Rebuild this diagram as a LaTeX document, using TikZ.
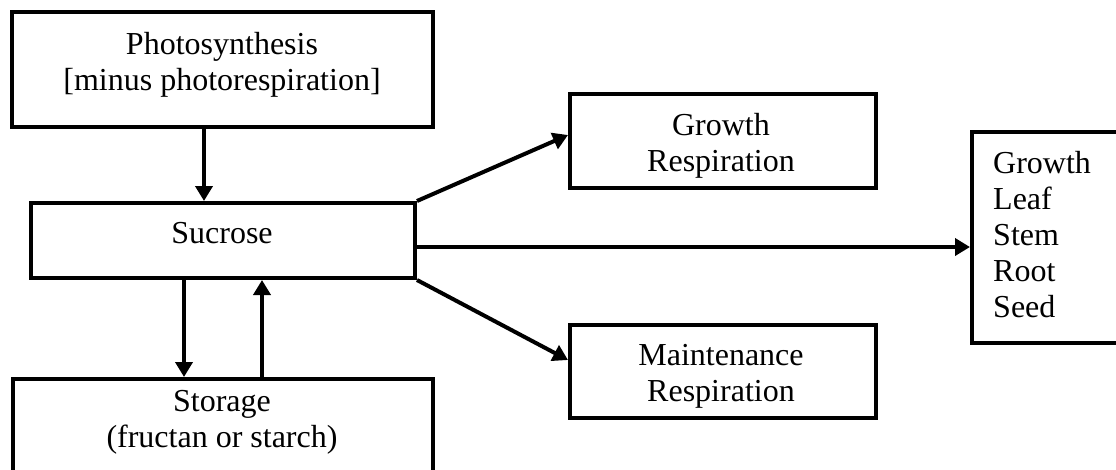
\documentclass[tikz,border=0pt]{standalone}
\usepackage{fontspec}
\setmainfont{Liberation Serif}
\usetikzlibrary{arrows.meta}
\begin{document}
\begin{tikzpicture}[x=1pt,y=-1pt,
  boxnode/.style={draw, line width=4pt, inner sep=0pt},
  txt/.style={font=\fontsize{32}{36}\selectfont, inner sep=0pt},
  arr/.style={line width=4pt, -{Triangle[length=15pt,width=17pt]}}]
\useasboundingbox (0,0) rectangle (1116,469);
\clip (0,0) rectangle (1116,469);
% boxes
\node[boxnode, minimum width=421pt, minimum height=115pt] (photo) at (222.5,69.5) {};
\node[boxnode, minimum width=384pt, minimum height=75pt] (sucrose) at (223,240.5) {};
\node[boxnode, minimum width=420pt, minimum height=141pt] (storage) at (223,449.5) {};
\node[boxnode, minimum width=306pt, minimum height=94pt] (growth) at (723,141) {};
\node[boxnode, minimum width=306pt, minimum height=93pt] (maint) at (723,371.5) {};
\node[boxnode, minimum width=168pt, minimum height=211pt] (organs) at (1056,237.5) {};
% texts (base anchor = baseline of last line)
\node[txt, align=center, anchor=base] (phototxt) at (222,90) {Photosynthesis\\{}[minus photorespiration]};
\node[txt, anchor=base] (sucrosetxt) at (222,243) {Sucrose};
\node[txt, align=center, anchor=base] (storagetxt) at (222,447) {Storage\\(fructan or starch)};
\node[txt, align=center, anchor=base] (growthtxt) at (721,171) {Growth\\Respiration};
\node[txt, align=center, anchor=base] (mainttxt) at (721,401) {Maintenance\\Respiration};
\node[txt, align=left, anchor=base west] (organstxt) at (993,317) {Growth\\Leaf\\Stem\\Root\\Seed};
% arrows
\draw[arr] ([xshift=-18.5pt]photo.south) -- ([xshift=-18.5pt]photo.south |- sucrose.north);
\draw[arr] ([xshift=-39pt]sucrose.south) -- ([xshift=-39pt]sucrose.south |- storage.north);
\draw[arr] ([xshift=39pt]sucrose.south |- storage.north) -- ([xshift=39pt]sucrose.south);
\draw[arr] (sucrose.north east) -- ([yshift=6pt]growth.west);
\draw[arr] (sucrose.south east) -- ([yshift=11.5pt]maint.west);
\coordinate (hstart) at ([yshift=-6.5pt]sucrose.east);
\draw[arr] (hstart) -- (hstart -| organs.west);
\end{tikzpicture}
\end{document}
